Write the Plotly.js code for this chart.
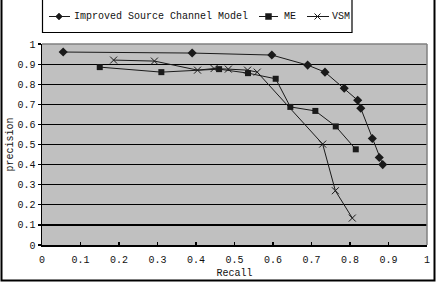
<!DOCTYPE html>
<html>
<head>
<meta charset="utf-8">
<script src="https://cdn.plot.ly/plotly-3.0.1.min.js"></script>
<style>
  html, body { margin: 0; padding: 0; background: #fff; }
  #chart { width: 436px; height: 282px; }
</style>
</head>
<body>
<div id="chart"></div>
<script>
// Precision / recall of the three retrieval models
const seriesNames = ['Improved Source Channel Model', 'ME', 'VSM'];

const iscmRecall    = [0.055, 0.39, 0.597, 0.69, 0.735, 0.785, 0.82, 0.828, 0.858, 0.876, 0.885];
const iscmPrecision = [0.96, 0.955, 0.945, 0.895, 0.86, 0.78, 0.72, 0.68, 0.53, 0.435, 0.40];

const meRecall    = [0.15, 0.31, 0.46, 0.535, 0.607, 0.645, 0.71, 0.763, 0.815];
const mePrecision = [0.885, 0.86, 0.875, 0.855, 0.827, 0.687, 0.667, 0.59, 0.476];

const vsmRecall    = [0.186, 0.292, 0.404, 0.447, 0.484, 0.534, 0.559, 0.729, 0.762, 0.806];
const vsmPrecision = [0.92, 0.915, 0.87, 0.878, 0.875, 0.87, 0.86, 0.502, 0.27, 0.134];

const tickVals = [0, 0.1, 0.2, 0.3, 0.4, 0.5, 0.6, 0.7, 0.8, 0.9, 1];
const tickText = ['0', '0.1', '0.2', '0.3', '0.4', '0.5', '0.6', '0.7', '0.8', '0.9', '1'];

const FONT = 'Liberation Mono, DejaVu Sans Mono, monospace';
const INK = '#1a1a1a';
const TEXT = '#111111';

const traces = [
  {
    x: iscmRecall, y: iscmPrecision, name: seriesNames[0],
    type: 'scatter', mode: 'lines+markers',
    line: { color: INK, width: 1 },
    marker: { symbol: 'diamond', size: 7, color: INK }
  },
  {
    x: meRecall, y: mePrecision, name: seriesNames[1],
    type: 'scatter', mode: 'lines+markers',
    line: { color: INK, width: 1 },
    marker: { symbol: 'square', size: 6, color: INK }
  },
  {
    x: vsmRecall, y: vsmPrecision, name: seriesNames[2],
    type: 'scatter', mode: 'lines+markers',
    line: { color: INK, width: 1 },
    marker: { symbol: 'x-thin-open', size: 7, color: INK, line: { color: INK, width: 1 } }
  }
];

// plot area: 42..427 px horizontally, 44..245 px vertically
const L = 42, R = 9, T = 44, B = 37, W = 436 - L - R, H = 282 - T - B;
const px = v => (v - L) / W;
const py = v => (T + H - v) / H;

// key along the top: one short line with its marker, then the series name
const keyY = 16.5;
const keyItems = [
  { lineFrom: 49, lineTo: 70, mark: 59, textAt: 72, kind: 'diamond' },
  { lineFrom: 259, lineTo: 278, mark: 268.5, textAt: 282, kind: 'square' },
  { lineFrom: 307, lineTo: 329, mark: 317.5, textAt: 330, kind: 'x' }
];

const shapes = [
  // grey plot-area border on the top and right
  { type: 'line', xref: 'paper', yref: 'paper', x0: 0, x1: 1, y0: 1, y1: 1,
    line: { color: '#808080', width: 1.5 } },
  { type: 'line', xref: 'paper', yref: 'paper', x0: 1, x1: 1, y0: 0, y1: 1,
    line: { color: '#808080', width: 1.5 } },
  // key box
  { type: 'rect', xref: 'paper', yref: 'paper',
    x0: px(42.5), x1: px(352), y0: py(32.5), y1: py(-3),
    line: { color: '#000', width: 1.2 }, fillcolor: 'rgba(0,0,0,0)' },
  // outer chart frame
  { type: 'rect', xref: 'paper', yref: 'paper',
    x0: px(1.5), x1: px(434.5), y0: py(280.5), y1: py(-5),
    line: { color: '#000', width: 2 }, fillcolor: 'rgba(0,0,0,0)' }
];

const annotations = [];
keyItems.forEach((k, i) => {
  shapes.push({ type: 'line', xref: 'paper', yref: 'paper',
    x0: px(k.lineFrom), x1: px(k.lineTo), y0: py(keyY), y1: py(keyY),
    line: { color: INK, width: 1 } });
  const m = k.mark;
  if (k.kind === 'diamond') {
    shapes.push({ type: 'path', xref: 'paper', yref: 'paper',
      path: `M ${px(m)},${py(keyY - 3.5)} L ${px(m + 3.5)},${py(keyY)} L ${px(m)},${py(keyY + 3.5)} L ${px(m - 3.5)},${py(keyY)} Z`,
      fillcolor: INK, line: { color: INK, width: 0.5 } });
  } else if (k.kind === 'square') {
    shapes.push({ type: 'rect', xref: 'paper', yref: 'paper',
      x0: px(m - 3), x1: px(m + 3), y0: py(keyY + 3), y1: py(keyY - 3),
      fillcolor: INK, line: { color: INK, width: 0.5 } });
  } else {
    shapes.push({ type: 'line', xref: 'paper', yref: 'paper',
      x0: px(m - 3), x1: px(m + 3), y0: py(keyY - 3), y1: py(keyY + 3),
      line: { color: INK, width: 1 } });
    shapes.push({ type: 'line', xref: 'paper', yref: 'paper',
      x0: px(m - 3), x1: px(m + 3), y0: py(keyY + 3), y1: py(keyY - 3),
      line: { color: INK, width: 1 } });
  }
  annotations.push({ xref: 'paper', yref: 'paper', x: px(k.textAt), y: py(keyY),
    xanchor: 'left', yanchor: 'middle', showarrow: false, text: seriesNames[i],
    font: { family: FONT, size: 10, color: TEXT } });
});

const layout = {
  width: 436, height: 282,
  margin: { l: L, r: R, t: T, b: B, pad: 0 },
  paper_bgcolor: '#ffffff',
  plot_bgcolor: '#c0c0c0',
  font: { family: FONT, size: 10, color: TEXT },
  showlegend: false,
  xaxis: {
    range: [0, 1], tickvals: tickVals, ticktext: tickText,
    showgrid: false, zeroline: false,
    showline: true, linecolor: '#000', linewidth: 1.5,
    ticks: 'inside', ticklen: 3, tickcolor: '#000', tickwidth: 1.5,
    ticklabelstandoff: 4,
    title: { text: 'Recall', font: { family: FONT, size: 10 }, standoff: 4 }
  },
  yaxis: {
    range: [0, 1], tickvals: tickVals, ticktext: tickText,
    showgrid: true, gridcolor: '#000', gridwidth: 1.2,
    zeroline: false,
    showline: true, linecolor: '#000', linewidth: 1.5,
    ticks: 'outside', ticklen: 3, tickcolor: '#000', tickwidth: 1.2,
    ticklabelstandoff: 0,
    title: { text: 'precision', font: { family: FONT, size: 10 }, standoff: 2 }
  },
  shapes: shapes,
  annotations: annotations
};

Plotly.newPlot('chart', traces, layout, { displayModeBar: false, staticPlot: true });
</script>
</body>
</html>
